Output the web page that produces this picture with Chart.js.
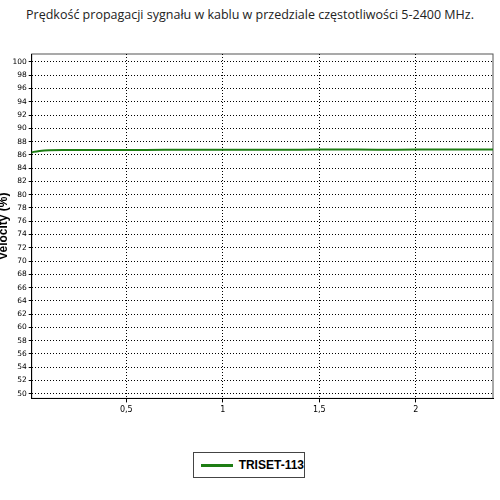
<!DOCTYPE html>
<html>
<head>
<meta charset="utf-8">
<script src="https://cdn.jsdelivr.net/npm/chart.js@4"></script>
<style>
body { margin: 0; background: #fff; }
#wrap { width: 500px; height: 500px; position: relative; }
#title { position: absolute; top: 6px; left: 0; width: 500px; text-align: center; font-family: "Open Sans", sans-serif; font-size: 12.5px; color: #222; }
#legend { position: absolute; left: 193px; top: 452px; width: 112px; height: 26px; border: 1px solid #444; font-family: "Liberation Sans", Arial, sans-serif; font-weight: bold; font-size: 12px; display: flex; align-items: center; white-space: nowrap; box-sizing: border-box; }
#legend span.l { display: inline-block; width: 34px; height: 3px; background: #1e7d14; margin: 0 6px 0 7px; }
</style>
</head>
<body>
<div id="wrap">
  <div id="title">Prędkość propagacji sygnału w kablu w przedziale częstotliwości 5-2400 MHz.</div>
  <div style="position:absolute;left:-4px;top:44px;width:502px;height:374px;"><canvas id="c"></canvas></div>
  <div id="legend"><span class="l"></span>TRISET-113</div>
</div>
<script>
// frequency in GHz, velocity in %
const freq = [0.005, 0.02, 0.05, 0.1, 0.2, 0.4, 0.6, 0.8, 1.0, 1.2, 1.4, 1.6, 1.8, 2.0, 2.2, 2.4];
const velocity = [86.3, 86.45, 86.6, 86.7, 86.72, 86.75, 86.75, 86.78, 86.78, 86.76, 86.78, 86.8, 86.78, 86.8, 86.8, 86.8];
const yTicks = [];
for (let v = 50; v <= 100; v += 2) yTicks.push(v);
const xTicks = [0.5, 1, 1.5, 2];

new Chart(document.getElementById('c'), {
  type: 'line',
  data: {
    datasets: [{
      label: 'TRISET-113',
      data: freq.map((f, i) => ({ x: f, y: velocity[i] })),
      borderColor: '#1e7d14',
      borderWidth: 2,
      pointRadius: 0,
      tension: 0.3
    }]
  },
  options: {
    responsive: true,
    maintainAspectRatio: false,
    animation: false,
    layout: { padding: { right: 5, top: 10 } },
    plugins: { legend: { display: false } },
    scales: {
      x: {
        type: 'linear', min: 0.01, max: 2.4,
        afterBuildTicks: s => { s.ticks = xTicks.map(v => ({ value: v })); },
        ticks: { callback: v => String(v).replace('.', ','), font: { size: 8, family: 'DejaVu Sans' }, color: '#000', maxRotation: 0 },
        grid: { color: '#000', tickLength: 4 },
        border: { color: '#000', dash: [1, 2] }
      },
      y: {
        min: 49.3, max: 101.2,
        afterBuildTicks: s => { s.ticks = yTicks.map(v => ({ value: v })); },
        ticks: { font: { size: 7.5, family: 'DejaVu Sans' }, color: '#000', autoSkip: false, padding: 2 },
        grid: { color: '#000', tickLength: 3 },
        border: { color: '#000', dash: [1, 2] },
        title: { display: true, text: 'Velocity (%)', font: { size: 12, weight: 'bold', family: 'Liberation Sans' }, color: '#000', padding: 0 }
      }
    }
  },
  plugins: [{
    id: 'frame',
    beforeDraw(chart) {
      const ctx = chart.ctx, a = chart.chartArea;
      ctx.save();
      ctx.strokeStyle = '#555';
      ctx.lineWidth = 1;
      ctx.strokeRect(a.left, a.top, a.right - a.left, a.bottom - a.top);
      ctx.restore();
    }
  }]
});
</script>
</body>
</html>
